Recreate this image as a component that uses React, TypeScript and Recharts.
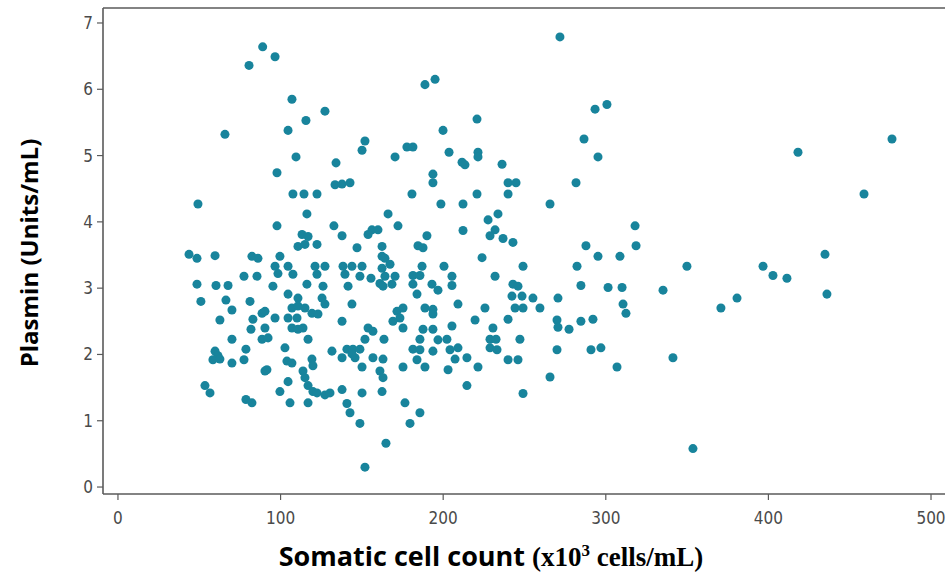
import React from "react";
import { ScatterChart, Scatter, XAxis, YAxis, ZAxis, Label } from "recharts";

const xTicks = [0, 100, 200, 300, 400, 500];
const yTicks = [0, 1, 2, 3, 4, 5, 6, 7];

const sccValues = [
  89, 96.6, 80.6, 107, 127.3, 115.6, 104.6, 65.8, 195, 188.8, 220.8, 199.9,
  151.9, 150.1, 109.5, 134.1, 97.8, 133.5, 137.8, 142.7, 107.6, 114.4, 122.4, 116.2, 166.1, 97.8, 132.8, 137.8, 113.2, 116.9, 110.7, 115, 122.4, 156.2, 159.9, 153.8, 147, 162.4, 99.6, 162.4, 164.2, 96.6, 98.4, 104.6, 107.6, 121.2, 127.3, 122.4, 138.4, 143.9, 150.1, 139.6, 148.8, 155.6, 162.4, 164.2, 161.1, 163, 95.3, 116.2, 126.1, 141.5, 104.6, 110.7, 125.5,
  177.7, 181.4, 170.4, 203.6, 221.4, 221.4, 211.6, 213.4, 236.2, 193.7, 193.7, 239.9, 244.8, 239.9, 180.8, 220.8, 198.6, 212.2, 172.2, 233.7, 227.6, 231.9, 228.8, 236.8, 242.9, 212.2, 190, 184.5, 187.6, 223.9, 249.1, 187, 200.5, 167.3, 170.4, 168.5, 181.4, 185.7, 181.4, 193.1, 196.8, 205.4, 205.4, 231.9, 242.9, 246, 242.3, 248.5, 183.9,
  49.2, 43.7, 48.6, 59.7, 82.4, 86.1, 77.5, 85.5, 48.6, 60.3, 67.7, 51, 66.4, 81.2,
  70.1, 88.6, 62.7, 83, 81.8, 90.4, 70.1, 88.6, 59.7, 61.5, 58.4, 62.7, 78.7, 77.5, 70.1, 90.4, 53.5, 56.6, 78.7, 82.4,
  90.4, 96.6, 107, 110.7, 115, 119.3, 123, 127.3, 104.6, 110.1, 107, 110.7, 113.8, 92.3, 116.9, 137.8, 143.9, 153.8, 156.8, 151.9, 163.6, 102.7, 103.9, 107, 119.3, 119.9, 131.6, 140.8, 144.5, 148.8, 143.9, 145.8, 137.8, 150.1, 156.8, 163, 91.6, 113.8, 115, 116.9, 119.9, 122.4, 161.1, 163, 104.6, 99.6, 127.3, 130.4, 137.8, 150.1, 162.4, 105.8, 116.9, 140.8, 142.7, 148.8, 164.8, 151.9,
  171.6, 175.3, 173.4, 175.3, 169.1, 188.8, 193.7, 193.7, 209.1, 225.7, 244.2, 249.1, 219.6, 239.9, 187.6, 193.7, 205.4, 230.6, 228.8, 232.5, 228.8, 233.1, 247.2, 185.7, 196.8, 202.3, 181.4, 185.7, 193.7, 204.2, 209.1, 207.3, 214.6, 183.9, 239.9, 246, 175.3, 188.8, 203, 221.4, 214.6, 249.1, 176.5, 185.7, 179.6,
  271.8, 293.4, 300.7, 286.6, 295.2, 281.7, 265.7, 318, 318.6, 287.8, 295.2, 308.7, 282.3, 349.9, 284.7, 301.4, 310, 335.2, 255.2, 270.6, 259.5, 380.7, 370.8, 310.6, 312.4, 270, 270.6, 277.4, 284.7, 292.1, 270, 290.9, 297, 306.9, 341.3, 265.7, 353.6,
  476, 418.2, 458.8, 434.8, 396.7, 402.8, 411.4, 436,
];

const plasminValues = [
  6.64, 6.49, 6.36, 5.85, 5.67, 5.53, 5.38, 5.32, 6.15, 6.07, 5.55, 5.38,
  5.22, 5.08, 4.98, 4.89, 4.74, 4.56, 4.57, 4.59, 4.42, 4.42, 4.42, 4.12, 4.12, 3.94, 3.94, 3.79, 3.81, 3.78, 3.63, 3.66, 3.66, 3.88, 3.88, 3.81, 3.61, 3.63, 3.48, 3.48, 3.45, 3.33, 3.22, 3.33, 3.21, 3.33, 3.33, 3.21, 3.33, 3.33, 3.33, 3.21, 3.18, 3.15, 3.3, 3.18, 3.07, 3.03, 3.03, 3.06, 3.03, 3.03, 2.91, 2.85, 2.85,
  5.13, 5.13, 4.98, 5.05, 5.05, 4.98, 4.9, 4.86, 4.87, 4.72, 4.59, 4.59, 4.59, 4.42, 4.42, 4.42, 4.27, 4.27, 3.94, 4.12, 4.03, 3.88, 3.79, 3.75, 3.69, 3.87, 3.79, 3.64, 3.61, 3.46, 3.33, 3.33, 3.33, 3.36, 3.18, 3.06, 3.19, 3.19, 3.06, 3.06, 2.97, 3.18, 3.04, 3.18, 3.06, 3.03, 2.88, 2.88, 2.91,
  4.27, 3.51, 3.45, 3.49, 3.48, 3.45, 3.18, 3.18, 3.06, 3.04, 3.04, 2.8, 2.82, 2.8,
  2.67, 2.62, 2.52, 2.53, 2.38, 2.4, 2.23, 2.23, 2.05, 1.98, 1.92, 1.93, 2.08, 1.92, 1.87, 1.75, 1.53, 1.42, 1.32, 1.27,
  2.65, 2.55, 2.7, 2.73, 2.7, 2.62, 2.61, 2.76, 2.55, 2.55, 2.4, 2.38, 2.4, 2.25, 2.23, 2.5, 2.76, 2.4, 2.35, 2.23, 2.23, 2.1, 1.9, 1.87, 1.93, 1.83, 2.05, 2.08, 2.08, 2.08, 2.01, 1.95, 1.95, 1.81, 1.95, 1.93, 1.77, 1.75, 1.65, 1.53, 1.44, 1.42, 1.75, 1.65, 1.59, 1.44, 1.39, 1.42, 1.47, 1.42, 1.44, 1.27, 1.27, 1.26, 1.12, 0.96, 0.66, 0.3,
  2.65, 2.7, 2.55, 2.4, 2.5, 2.7, 2.68, 2.61, 2.76, 2.7, 2.7, 2.7, 2.52, 2.53, 2.38, 2.38, 2.43, 2.4, 2.23, 2.23, 2.1, 2.07, 2.23, 2.23, 2.22, 2.23, 2.08, 2.07, 2.05, 2.07, 2.1, 1.93, 1.95, 1.92, 1.92, 1.92, 1.81, 1.81, 1.77, 1.81, 1.53, 1.41, 1.27, 1.12, 0.96,
  6.79, 5.7, 5.77, 5.25, 4.98, 4.59, 4.27, 3.94, 3.64, 3.64, 3.48, 3.48, 3.33, 3.33, 3.04, 3.01, 3.01, 2.97, 2.85, 2.85, 2.7, 2.85, 2.7, 2.76, 2.62, 2.52, 2.41, 2.38, 2.5, 2.53, 2.07, 2.07, 2.1, 1.81, 1.95, 1.66, 0.58,
  5.25, 5.05, 4.42, 3.51, 3.33, 3.19, 3.15, 2.91,
];

const data = sccValues.map((s, i) => ({ scc: s, plasmin: plasminValues[i] }));

const X_DOMAIN = [-9.2, 508.6];
const Y_DOMAIN = [-0.105, 7.226];
const AXIS_COLOR = "#5a5a5a";
const FRAME_COLOR = "#b8b8b8";
const DOT_COLOR = "#18849c";
const tickStyle = {
  fontFamily: "'DejaVu Sans Condensed', 'DejaVu Sans', sans-serif",
  fontSize: 17,
  fill: "#4a4a4a",
};

function XTitle() {
  return (
    <text x={491} y={566} textAnchor="middle" fill="#000" fontWeight="bold">
      <tspan fontFamily="'Open Sans', Lato, sans-serif" fontSize={27}>Somatic cell count </tspan>
      <tspan fontFamily="'Liberation Serif', serif" fontSize={27}>(x10</tspan>
      <tspan fontFamily="'Liberation Serif', serif" fontSize={17} dy={-10}>3</tspan>
      <tspan fontFamily="'Liberation Serif', serif" fontSize={27} dy={10}> cells/mL)</tspan>
    </text>
  );
}

function YTitle() {
  return (
    <text
      x={28}
      y={253}
      transform="rotate(-90, 28, 253)"
      textAnchor="middle"
      dominantBaseline="central"
      fill="#000"
      fontWeight="bold"
      fontFamily="'Open Sans', Lato, sans-serif"
      fontSize={24}
    >
      Plasmin (Units/mL)
    </text>
  );
}

export default function App() {
  return (
    <div style={{ position: "absolute", left: 0, top: 0, width: 952, height: 574, background: "#fff" }}>
      <ScatterChart width={952} height={574} margin={{ top: 7, right: 7, left: 63, bottom: 50 }}>
        <XAxis
          dataKey="scc"
          type="number"
          domain={X_DOMAIN}
          ticks={xTicks}
          allowDataOverflow
          height={30}
          tick={tickStyle}
          tickSize={6}
          tickMargin={12}
          stroke={AXIS_COLOR}
          axisLine={{ stroke: AXIS_COLOR, strokeWidth: 1.6 }}
          tickLine={{ stroke: AXIS_COLOR, strokeWidth: 1.2 }}
        >
          <Label content={<XTitle />} />
        </XAxis>
        <XAxis
          xAxisId="top"
          orientation="top"
          type="number"
          domain={X_DOMAIN}
          allowDataOverflow
          height={1}
          tick={false}
          tickLine={false}
          axisLine={{ stroke: AXIS_COLOR, strokeWidth: 1.6 }}
        />
        <YAxis
          dataKey="plasmin"
          type="number"
          domain={Y_DOMAIN}
          ticks={yTicks}
          allowDataOverflow
          width={40}
          tick={tickStyle}
          tickSize={6}
          tickMargin={4}
          stroke={AXIS_COLOR}
          axisLine={{ stroke: AXIS_COLOR, strokeWidth: 1.6 }}
          tickLine={{ stroke: AXIS_COLOR, strokeWidth: 1.2 }}
        >
          <Label content={<YTitle />} />
        </YAxis>
        <YAxis
          yAxisId="right"
          orientation="right"
          type="number"
          domain={Y_DOMAIN}
          allowDataOverflow
          width={0}
          tick={false}
          tickLine={false}
          axisLine={{ stroke: FRAME_COLOR, strokeWidth: 1.5 }}
        />
        <ZAxis range={[54, 54]} />
        <Scatter data={data} fill={DOT_COLOR} isAnimationActive={false} />
      </ScatterChart>
    </div>
  );
}
